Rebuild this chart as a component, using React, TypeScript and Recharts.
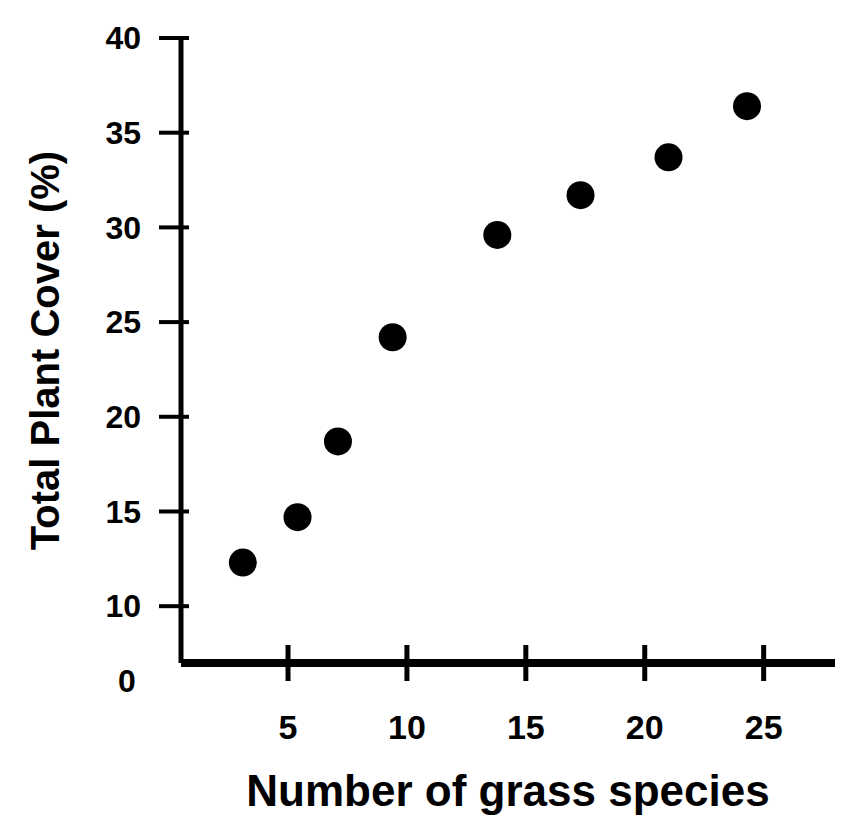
import React from "react";
import { ScatterChart, Scatter, XAxis, YAxis, Label } from "recharts";

// values (x = number of species, y = cover)
const speciesCount = [3.1, 5.4, 7.1, 9.4, 13.8, 17.3, 21.0, 24.3];
const plantCover = [12.3, 14.7, 18.7, 24.2, 29.6, 31.7, 33.7, 36.4];
const xTicks = [5, 10, 15, 20, 25];
const yTicks = [10, 15, 20, 25, 30, 35, 40];

const data = speciesCount.map((x, i) => ({ x, y: plantCover[i] }));

const FONT = "'Liberation Sans', Arial, sans-serif";

function XTick({ x, y, payload }: any) {
  return (
    <g>
      <line x1={x} x2={x} y1={y - 18} y2={y + 18} stroke="#000" strokeWidth={5} />
      <text x={x} y={y + 76} textAnchor="middle" fontFamily={FONT} fontWeight="bold" fontSize={34} fill="#000">
        {payload.value}
      </text>
    </g>
  );
}

function YTick({ x, y, payload }: any) {
  return (
    <g>
      <line x1={x - 22} x2={x + 8} y1={y} y2={y} stroke="#000" strokeWidth={4} />
      <text x={x - 40} y={y} dy="0.35em" textAnchor="end" fontFamily={FONT} fontWeight="bold" fontSize={32} fill="#000">
        {payload.value}
      </text>
    </g>
  );
}

function Dot({ cx, cy }: any) {
  return <circle cx={cx} cy={cy} r={14} fill="#000" />;
}

export default function App() {
  return (
    <div style={{ position: "absolute", left: 0, top: 0, background: "#fff" }}>
      <ScatterChart width={845} height={828} margin={{ top: 38, right: 10, bottom: 0, left: 0 }}>
        <XAxis
          type="number"
          dataKey="x"
          domain={[0.5, 28]}
          ticks={xTicks}
          allowDataOverflow
          height={165}
          tickSize={0}
          tickMargin={0}
          tickLine={false}
          tick={<XTick />}
          axisLine={{ stroke: "#000", strokeWidth: 8 }}
        >
          <Label
            value="Number of grass species"
            position="insideBottom"
            offset={22}
            style={{ fontFamily: FONT, fontWeight: "bold", fontSize: 44, fill: "#000" }}
          />
        </XAxis>
        <YAxis
          type="number"
          dataKey="y"
          domain={[7, 40]}
          ticks={yTicks}
          allowDataOverflow
          width={181}
          tickSize={0}
          tickMargin={0}
          tickLine={false}
          tick={<YTick />}
          axisLine={{ stroke: "#000", strokeWidth: 5 }}
        >
          <Label
            value="Total Plant Cover (%)"
            angle={-90}
            position="insideLeft"
            offset={45}
            style={{ textAnchor: "middle", fontFamily: FONT, fontWeight: "bold", fontSize: 40, fill: "#000" }}
          />
          <Label
            content={({ viewBox }: any) => (
              <text
                x={viewBox.x + viewBox.width - 54}
                y={viewBox.y + viewBox.height + 29}
                textAnchor="middle"
                fontFamily={FONT}
                fontWeight="bold"
                fontSize={32}
                fill="#000"
              >
                0
              </text>
            )}
          />
        </YAxis>
        <Scatter data={data} shape={<Dot />} isAnimationActive={false} />
      </ScatterChart>
    </div>
  );
}
